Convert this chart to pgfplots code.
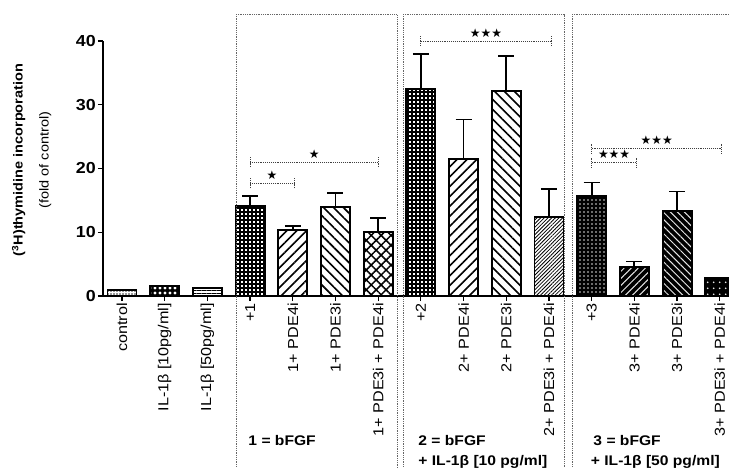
\documentclass[border=0pt]{standalone}
\usepackage{pgfplots}
\pgfplotsset{compat=1.18}
\usetikzlibrary{patterns.meta}
\usepackage{fontspec}
\setmainfont{Liberation Sans}[FakeStretch=1.12]
\newfontfamily\dejavu{DejaVu Sans}

\pgfplotsset{
  mybar/.style={ybar, bar width=0.68, bar shift=0pt, draw=black, line width=1.9pt},
  errb/.style={error bars/.cd, y dir=plus, y explicit,
     error bar style={line width=1.8pt, black, solid},
     error mark options={rotate=90, mark size=8bp, line width=1.8pt, black}},
}
\newcommand{\sig}[4]{%
  \draw[black!75, densely dotted, line width=0.9pt]
     (axis cs:#1,#3) -- (axis cs:#2,#3)
     (axis cs:#1,#3-0.8) -- (axis cs:#1,#3+0.8)
     (axis cs:#2,#3-0.8) -- (axis cs:#2,#3+0.8);
  \node[font=\dejavu\fontsize{12}{12}\selectfont, inner sep=0pt] at (axis cs:{(#1+#2)/2},#3+1.3) {#4};}

\begin{document}
\begin{tikzpicture}
\path[use as bounding box] (-103bp,-172bp) rectangle (626bp,296bp);
\clip (-103bp,-172bp) rectangle (626bp,296bp);
\begin{axis}[
  at={(0,0)}, anchor=south west,
  scale only axis, width=626bp, height=255bp,
  xmin=-0.445, xmax=14.216, ymin=0, ymax=40,
  clip=false,
  axis x line=bottom, axis y line=left,
  axis line style={-, line width=1.2pt, black},
  tick align=outside, major tick length=5bp,
  tick style={black, line width=1.2pt},
  ytick={0,10,20,30,40},
  xtick={0,1,2,3,4,5,6,7,8,9,10,11,12,13,14},
  xticklabels={{control},{IL-1β [10pg/ml]},{IL-1β [50pg/ml]},
    {+1},{1+ PDE4i},{1+ PDE3i},{1+ PDE3i + PDE4i},
    {+2},{2+ PDE4i},{2+ PDE3i},{2+ PDE3i + PDE4i},
    {+3},{3+ PDE4i},{3+ PDE3i},{3+ PDE3i + PDE4i}},
  xticklabel style={rotate=90, anchor=east, font=\fontsize{14.5}{14.5}\selectfont, inner sep=2bp},
  yticklabel style={font=\fontsize{16}{16}\selectfont\bfseries, inner sep=2bp},
  /pgf/number format/assume math mode=true,
  every axis y label/.style={at={(axis description cs:-0.114,0.533)}, rotate=90, anchor=center, align=center, font=\fontsize{13}{15}\selectfont},
  ylabel={{\fontsize{13}{15}\selectfont\bfseries (\textsuperscript{3}H)thymidine incorporation}\\[11pt]{\fontsize{13}{15}\selectfont (fold of control)}},
]
% control group
\addplot[mybar, pattern={Dots[distance=3bp, radius=0.8bp]}, pattern color=black!80] coordinates {(0,1.0)};
\addplot[mybar, preaction={fill=black}, pattern={Dots[distance=5bp, radius=1.6bp]}, pattern color=white] coordinates {(1,1.6)};
\addplot[mybar, pattern={Lines[angle=0, distance=2.5bp, line width=0.6bp]}, pattern color=black] coordinates {(2,1.3)};
% group 1
\addplot[mybar, pattern={Hatch[angle=0, distance=4bp, line width=1.1bp]}, pattern color=black, errb] coordinates {(3,14.1) +- (0,1.6)};
\addplot[mybar, pattern={Lines[angle=45, distance=7bp, line width=1.6bp]}, pattern color=black, errb] coordinates {(4,10.3) +- (0,0.7)};
\addplot[mybar, pattern={Lines[angle=-45, distance=7bp, line width=1.6bp]}, pattern color=black, errb] coordinates {(5,14.0) +- (0,2.1)};
\addplot[mybar, pattern={Hatch[angle=45, distance=7bp, line width=1.5bp]}, pattern color=black, errb] coordinates {(6,10.0) +- (0,2.2)};
% group 2
\addplot[mybar, pattern={Hatch[angle=0, distance=4bp, line width=1.1bp]}, pattern color=black, errb] coordinates {(7,32.5) +- (0,5.5)};
\addplot[mybar, pattern={Lines[angle=45, distance=7bp, line width=1.6bp]}, pattern color=black, errb] coordinates {(8,21.5) +- (0,6.2)};
\addplot[mybar, pattern={Lines[angle=-45, distance=7bp, line width=1.6bp]}, pattern color=black, errb] coordinates {(9,32.2) +- (0,5.4)};
\addplot[mybar, pattern={Lines[angle=45, distance=2.6bp, line width=0.8bp]}, pattern color=black, errb] coordinates {(10,12.4) +- (0,4.4)};
% group 3
\addplot[mybar, preaction={fill=black}, pattern={Dots[distance=4bp, radius=0.8bp]}, pattern color=white!70!gray, errb] coordinates {(11,15.7) +- (0,2.1)};
\addplot[mybar, preaction={fill=black}, pattern={Lines[angle=45, distance=5bp, line width=1bp]}, pattern color=white!80!gray, errb] coordinates {(12,4.6) +- (0,0.8)};
\addplot[mybar, preaction={fill=black}, pattern={Lines[angle=-45, distance=5bp, line width=1bp]}, pattern color=white!80!gray, errb] coordinates {(13,13.3) +- (0,3.1)};
\addplot[mybar, preaction={fill=black}, pattern={Dots[distance=6bp, radius=1bp]}, pattern color=white!80!gray] coordinates {(14,2.8)};

% group frames
\draw[black!60, densely dotted, line width=0.8pt] (axis cs:2.67,-40) rectangle (axis cs:6.44,44.1);
\draw[black!60, densely dotted, line width=0.8pt] (axis cs:6.58,-40) rectangle (axis cs:10.37,44.1);
\draw[black!60, densely dotted, line width=0.8pt] (axis cs:10.54,-40) rectangle (axis cs:16,44.1);

% significance
\sig{3}{4.03}{17.7}{★}
\sig{3}{6}{21.0}{★}
\sig{7}{10.05}{40.0}{★★★}
\sig{11}{12.05}{20.9}{★★★}
\sig{11}{14.05}{23.1}{★★★}

% group labels
\node[anchor=west, font=\fontsize{14}{14}\selectfont\bfseries] at (axis cs:2.88,-22.6) {1 = bFGF};
\node[anchor=west, font=\fontsize{14}{14}\selectfont\bfseries] at (axis cs:6.86,-22.6) {2 = bFGF};
\node[anchor=west, font=\fontsize{14}{14}\selectfont\bfseries] at (axis cs:6.86,-26.0) {+ IL-1β [10 pg/ml]};
\node[anchor=west, font=\fontsize{14}{14}\selectfont\bfseries] at (axis cs:10.96,-22.6) {3 = bFGF};
\node[anchor=west, font=\fontsize{14}{14}\selectfont\bfseries] at (axis cs:10.90,-26.0) {+ IL-1β [50 pg/ml]};
\end{axis}
\end{tikzpicture}
\end{document}
